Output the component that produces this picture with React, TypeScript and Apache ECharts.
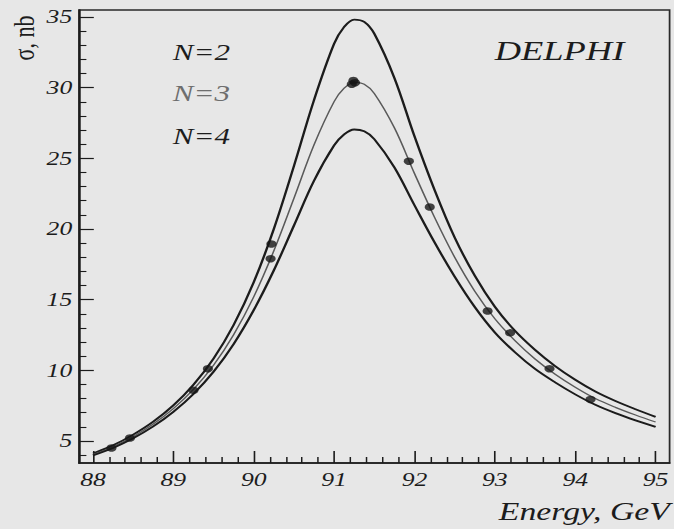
import React, { useEffect, useRef } from "react";
import * as echarts from "echarts";

// The reference scan is stretched horizontally; we draw at a narrower width and stretch the whole chart.
const STRETCH = 1.35;
const PAGE_W = 674;
const PAGE_H = 529;
const W0 = PAGE_W / STRETCH;

// Curve sampling energies (GeV)
const curveEnergy = [
  88.0, 88.25, 88.5, 88.75, 89.0, 89.25, 89.5, 89.75, 90.0, 90.25, 90.5, 90.75,
  91.0, 91.125, 91.25, 91.375, 91.5, 91.75, 92.0, 92.25, 92.5, 92.75, 93.0,
  93.25, 93.5, 93.75, 94.0, 94.25, 94.5, 94.75, 95.0,
];
// Cross sections (nb)
const sigmaN2 = [
  4.12, 4.69, 5.45, 6.37, 7.52, 8.98, 10.83, 13.21, 16.23, 20.0, 24.45, 29.12,
  33.1, 34.3, 34.82, 34.66, 33.82, 30.69, 26.56, 22.76, 19.4, 16.7, 14.5,
  12.8, 11.45, 10.3, 9.33, 8.5, 7.83, 7.25, 6.71,
];
const sigmaN3 = [
  4.05, 4.6, 5.32, 6.2, 7.29, 8.65, 10.36, 12.52, 15.2, 18.45, 22.17, 25.95,
  29.01, 29.96, 30.38, 30.24, 29.59, 27.16, 23.93, 20.82, 18.0, 15.6, 13.65,
  12.1, 10.8, 9.72, 8.8, 8.0, 7.38, 6.84, 6.34,
];
const sigmaN4 = [
  3.98, 4.51, 5.19, 6.03, 7.06, 8.33, 9.9, 11.86, 14.26, 17.07, 20.24, 23.41,
  25.91, 26.69, 27.04, 26.91, 26.36, 24.36, 21.68, 19.05, 16.63, 14.48, 12.68,
  11.28, 10.1, 9.15, 8.3, 7.56, 6.97, 6.46, 6.0,
];

// DELPHI measurements
const measEnergy = [
  88.23, 88.46, 89.25, 89.43, 90.22, 90.21, 91.22, 91.24, 91.26, 91.93, 92.19,
  92.91, 93.19, 93.68, 94.19,
];
const measSigma = [
  4.5, 5.21, 8.59, 10.12, 18.94, 17.9, 30.25, 30.5, 30.35, 24.8, 21.55, 14.19,
  12.65, 10.12, 7.94,
];

// Axis ticks
const xMajorTicks = [88, 89, 90, 91, 92, 93, 94, 95];
const xMinorTicks = [
  88.2, 88.4, 88.6, 88.8, 89.2, 89.4, 89.6, 89.8, 90.2, 90.4, 90.6, 90.8, 91.2,
  91.4, 91.6, 91.8, 92.2, 92.4, 92.6, 92.8, 93.2, 93.4, 93.6, 93.8, 94.2, 94.4,
  94.6, 94.8,
];
const yMajorTicks = [5, 10, 15, 20, 25, 30, 35];
const yMinorTicks = [
  4, 6, 7, 8, 9, 11, 12, 13, 14, 16, 17, 18, 19, 21, 22, 23, 24, 26, 27, 28, 29,
  31, 32, 33, 34,
];
const xRange = [87.826, 95.174];
const yRange = [3.443, 35.495];

const legendLabels = ["N=2", "N=3", "N=4"];
const experimentLabel = "DELPHI";
const xAxisTitle = "Energy, GeV";
const yAxisTitle = "σ, nb";

const SERIF = "'Liberation Serif', 'Times New Roman', serif";
const INK = "#1c1c1c";
const GREY_INK = "#5a5a5a";
const BG = "#e7e7e7";

export default function App() {
  const ref = useRef<HTMLDivElement>(null);

  useEffect(() => {
    if (!ref.current) return;
    const chart = echarts.init(ref.current, undefined, { renderer: "svg" });

    const pair = (xs: number[], ys: number[]) => xs.map((x, i) => [x, ys[i]]);

    const tickLabelStyle = {
      fontFamily: SERIF,
      fontStyle: "italic" as const,
      fontSize: 19,
      color: INK,
    };

    chart.setOption({
      animation: false,
      backgroundColor: BG,
      grid: {
        left: 58.5,
        right: 3,
        top: 10,
        bottom: 66,
        show: true,
        borderColor: "#2a2a2a",
        borderWidth: 1.3,
        backgroundColor: "transparent",
      },
      xAxis: [
        {
          type: "value",
          position: "bottom",
          min: xRange[0],
          max: xRange[1],
          axisLine: { show: true, onZero: false, lineStyle: { color: INK, width: 1.6 } },
          axisTick: {
            show: true,
            inside: true,
            length: 12,
            customValues: xMajorTicks,
            lineStyle: { color: INK, width: 1.2 },
          },
          axisLabel: {
            show: true,
            customValues: xMajorTicks,
            margin: 7,
            ...tickLabelStyle,
          },
          splitLine: { show: false },
        },
        {
          type: "value",
          position: "bottom",
          min: xRange[0],
          max: xRange[1],
          axisLine: { show: false, onZero: false },
          axisTick: {
            show: true,
            inside: true,
            length: 6,
            customValues: xMinorTicks,
            lineStyle: { color: INK, width: 1.1 },
          },
          axisLabel: { show: false },
          splitLine: { show: false },
        },
      ],
      yAxis: [
        {
          type: "value",
          position: "left",
          min: yRange[0],
          max: yRange[1],
          axisLine: { show: true, onZero: false, lineStyle: { color: INK, width: 1.6 } },
          axisTick: {
            show: true,
            inside: true,
            length: 11,
            customValues: yMajorTicks,
            lineStyle: { color: INK, width: 1.2 },
          },
          axisLabel: {
            show: true,
            customValues: yMajorTicks,
            margin: 5,
            ...tickLabelStyle,
          },
          splitLine: { show: false },
        },
        {
          type: "value",
          position: "left",
          min: yRange[0],
          max: yRange[1],
          axisLine: { show: false, onZero: false },
          axisTick: {
            show: true,
            inside: true,
            length: 5.5,
            customValues: yMinorTicks,
            lineStyle: { color: INK, width: 1.1 },
          },
          axisLabel: { show: false },
          splitLine: { show: false },
        },
      ],
      series: [
        {
          name: legendLabels[0],
          type: "line",
          data: pair(curveEnergy, sigmaN2),
          smooth: 0.35,
          showSymbol: false,
          symbol: "none",
          lineStyle: { color: INK, width: 1.8 },
          z: 3,
        },
        {
          name: legendLabels[1],
          type: "line",
          data: pair(curveEnergy, sigmaN3),
          smooth: 0.35,
          showSymbol: false,
          symbol: "none",
          lineStyle: { color: GREY_INK, width: 1.2 },
          z: 3,
        },
        {
          name: legendLabels[2],
          type: "line",
          data: pair(curveEnergy, sigmaN4),
          smooth: 0.35,
          showSymbol: false,
          symbol: "none",
          lineStyle: { color: INK, width: 1.8 },
          z: 3,
        },
        {
          name: experimentLabel,
          type: "scatter",
          data: pair(measEnergy, measSigma),
          symbol: "circle",
          symbolSize: 7.5,
          itemStyle: { color: "#161616" },
          z: 5,
        },
      ],
      graphic: [
        {
          type: "text",
          x: 17.8,
          y: 38,
          rotation: Math.PI / 2,
          style: {
            text: yAxisTitle,
            fontFamily: SERIF,
            fontSize: 22,
            fill: INK,
            align: "center",
            verticalAlign: "middle",
          },
        },
        {
          type: "text",
          x: 128,
          y: 52,
          style: {
            text: legendLabels[0],
            fontFamily: SERIF,
            fontStyle: "italic",
            fontSize: 23,
            fill: INK,
            align: "left",
            verticalAlign: "middle",
          },
        },
        {
          type: "text",
          x: 128,
          y: 93.5,
          style: {
            text: legendLabels[1],
            fontFamily: SERIF,
            fontStyle: "italic",
            fontSize: 23,
            fill: "#6e6e6e",
            align: "left",
            verticalAlign: "middle",
          },
        },
        {
          type: "text",
          x: 128,
          y: 136,
          style: {
            text: legendLabels[2],
            fontFamily: SERIF,
            fontStyle: "italic",
            fontSize: 23,
            fill: INK,
            align: "left",
            verticalAlign: "middle",
          },
        },
        {
          type: "text",
          x: 366.5,
          y: 51,
          style: {
            text: experimentLabel,
            fontFamily: SERIF,
            fontStyle: "italic",
            fontSize: 27,
            fill: INK,
            align: "left",
            verticalAlign: "middle",
          },
        },
        {
          type: "text",
          x: W0 - 3,
          y: 512,
          style: {
            text: xAxisTitle,
            fontFamily: SERIF,
            fontStyle: "italic",
            fontSize: 25,
            fill: INK,
            align: "right",
            verticalAlign: "middle",
          },
        },
      ],
    });

    return () => {
      chart.dispose();
    };
  }, []);

  return (
    <div
      style={{
        position: "absolute",
        left: 0,
        top: 0,
        width: PAGE_W,
        height: PAGE_H,
        overflow: "hidden",
        background: BG,
      }}
    >
      <div
        ref={ref}
        style={{
          width: W0,
          height: PAGE_H,
          transform: `scaleX(${STRETCH})`,
          transformOrigin: "0 0",
        }}
      />
    </div>
  );
}
